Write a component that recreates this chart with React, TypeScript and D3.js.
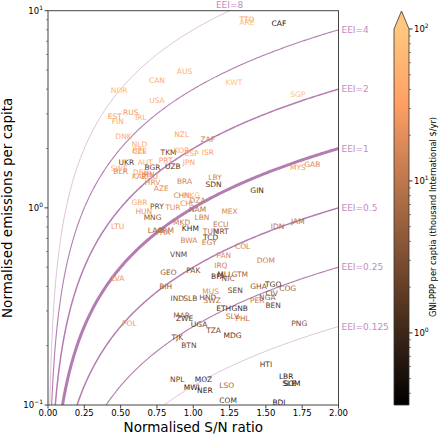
import React from 'react';
import * as d3 from 'd3';

// country codes with S/N ratio, emissions and GNI-PPP (thousand $)
const countries = [
  'NOR', 'CAN', 'AUS', 'USA', 'EST', 'RUS', 'IRL', 'FIN', 'DNK', 'NZL',
  'TTO', 'ARE', 'CAF', 'KWT', 'SGP', 'ZAF', 'NLD', 'BEL', 'CZE', 'TKM',
  'KOR', 'ESP', 'ISR', 'UKR', 'AUT', 'PRT', 'UZB', 'JPN', 'SWE', 'BLR',
  'BGR', 'DEU', 'KAZ', 'IRN', 'ROU', 'HRV', 'AZE', 'BRA', 'LBY', 'SDN',
  'CHN', 'HKG', 'CHL', 'DZA', 'GBR', 'PRY', 'TUR', 'NAM', 'HUN', 'MNG',
  'LBN', 'LTU', 'MKD', 'KHM', 'GIN', 'MYS', 'GAB', 'MEX', 'ECU', 'IDN',
  'JAM', 'LAO', 'ARM', 'THA', 'BWA', 'VNM', 'GEO', 'PAK', 'LVA', 'BIH',
  'IND', 'SLB', 'MUS', 'HND', 'SWZ', 'TUN', 'MRT', 'TCD', 'EGY', 'COL',
  'PAN', 'IRQ', 'DOM', 'BFA', 'NIC', 'MLI', 'GTM', 'SEN', 'GHA', 'TGO',
  'COG', 'CIV', 'PER', 'NGA', 'ETH', 'GNB', 'BEN', 'SLV', 'PHL', 'MAR',
  'ZWE', 'POL', 'UGA', 'TJK', 'BTN', 'NPL', 'MOZ', 'MWI', 'NER', 'TZA',
  'MDG', 'PNG', 'HTI', 'LBR', 'SLE', 'SOM', 'LSO', 'COM', 'BDI',
];
const snRatio = [
  0.49, 0.75, 0.94, 0.75, 0.46, 0.57, 0.64, 0.48, 0.52, 0.92,
  1.37, 1.37, 1.59, 1.28, 1.72, 1.10, 0.63, 0.63, 0.63, 0.83,
  0.92, 0.99, 1.10, 0.54, 0.67, 0.81, 0.86, 0.97, 0.49, 0.50,
  0.72, 0.64, 0.63, 0.69, 0.70, 0.72, 0.78, 0.94, 1.15, 1.14,
  0.92, 0.99, 0.96, 1.03, 0.63, 0.75, 0.86, 1.03, 0.66, 0.72,
  1.06, 0.48, 0.92, 0.98, 1.44, 1.72, 1.82, 1.25, 1.19, 1.58,
  1.72, 0.74, 0.81, 0.79, 0.97, 0.90, 0.83, 1.00, 0.48, 0.81,
  0.89, 0.98, 1.12, 1.10, 1.13, 1.12, 1.19, 1.12, 1.11, 1.34,
  1.21, 1.19, 1.50, 1.17, 1.24, 1.21, 1.32, 1.29, 1.45, 1.55,
  1.65, 1.54, 1.44, 1.51, 1.21, 1.32, 1.55, 1.27, 1.34, 0.92,
  0.94, 0.56, 1.04, 0.89, 0.97, 0.89, 1.07, 0.99, 1.08, 1.14,
  1.27, 1.73, 1.50, 1.64, 1.66, 1.68, 1.23, 1.24, 1.59,
];
const emissions = [
  3.93, 4.41, 4.90, 3.49, 2.90, 3.03, 2.86, 2.73, 2.29, 2.35,
  9.0, 8.75, 8.59, 4.31, 3.75, 2.21, 2.09, 1.95, 1.92, 1.90,
  1.95, 1.88, 1.90, 1.69, 1.69, 1.73, 1.63, 1.69, 1.58, 1.52,
  1.60, 1.51, 1.44, 1.47, 1.45, 1.34, 1.25, 1.36, 1.42, 1.32,
  1.15, 1.15, 1.05, 1.085, 1.07, 1.01, 1.00, 0.977, 0.954, 0.89,
  0.89, 0.80, 0.84, 0.79, 1.23, 1.61, 1.65, 0.954, 0.82, 0.80,
  0.85, 0.77, 0.77, 0.75, 0.68, 0.58, 0.47, 0.48, 0.44, 0.40,
  0.345, 0.345, 0.375, 0.35, 0.337, 0.76, 0.76, 0.71, 0.665, 0.634,
  0.57, 0.51, 0.54, 0.446, 0.44, 0.457, 0.457, 0.38, 0.40, 0.41,
  0.39, 0.366, 0.34, 0.35, 0.31, 0.31, 0.318, 0.28, 0.276, 0.286,
  0.276, 0.26, 0.255, 0.22, 0.20, 0.134, 0.135, 0.122, 0.118, 0.24,
  0.224, 0.26, 0.161, 0.139, 0.128, 0.128, 0.126, 0.105, 0.103,
];
const gniPpp = [
  65, 44, 45, 56, 27, 24, 50, 41, 48, 36,
  31, 70, 0.6, 80, 80, 13, 48, 43, 30, 2.2,
  34, 34, 33, 1.8, 47, 29, 1.6, 38, 47, 17,
  2.0, 46, 22, 16, 20, 21, 17, 15, 15, 1.5,
  14, 55, 21, 14, 40, 3.0, 19, 9, 24, 4,
  13, 27, 13, 1.2, 1.1, 26, 17, 16, 11, 10,
  8, 5, 8, 14, 15, 2.5, 4, 3, 23, 6,
  3.5, 2.5, 19, 4, 8, 10, 3, 1.5, 10, 13,
  19, 14, 13, 1.0, 4, 1.5, 6, 2.2, 3.5, 1.3,
  5, 3, 11, 5, 1.3, 1.3, 2, 8, 8, 6,
  1.6, 24, 1.7, 2.8, 2.5, 2.2, 1.1, 0.8, 0.9, 2.5,
  1.4, 3, 1.7, 0.8, 1.5, 0.6, 6, 1.5, 0.7,
];

const eeiLevels = [8, 4, 2, 1, 0.5, 0.25, 0.125];
const xTicks = [0, 0.25, 0.5, 0.75, 1, 1.25, 1.5, 1.75, 2];
const yDecades = [0.1, 1, 10];
const cbarDecades = [1, 10, 100];

const FONT = 'DejaVu Sans, sans-serif';
const plot = { left: 48, right: 338.5, top: 10.7, bottom: 405 };
const cbar = { x: 394, w: 15, top: 29, bottom: 405, tip: 11 };

const copper = (t: number) =>
  d3.rgb(Math.min(1, 1.25 * t) * 255, 0.7812 * t * 255, 0.4975 * t * 255).formatHex();

const sup = (base: string, exp: string) => (
  <>
    {base}
    <tspan dy={-4} fontSize={6}>{exp}</tspan>
  </>
);

export default function App() {
  const x = d3.scaleLinear().domain([0, 2]).range([plot.left, plot.right]);
  const y = d3.scaleLog().domain([0.1, 10]).range([plot.bottom, plot.top]);
  const color = d3.scaleSequentialLog(copper).domain([0.335, 100]).clamp(true);
  const cy = d3.scaleLog().domain([0.335, 100]).range([cbar.bottom, cbar.top]);

  const line = d3
    .line<[number, number]>()
    .x(d => x(d[0]))
    .y(d => y(d[1]));

  const yMinor: number[] = [];
  [0.1, 1].forEach(d => d3.range(2, 10).forEach(k => yMinor.push(d * k)));
  const cMinor: number[] = [];
  [0.1, 1, 10].forEach(d =>
    d3.range(2, 10).forEach(k => {
      const v = d * k;
      if (v >= 0.335 && v <= 100) cMinor.push(v);
    })
  );

  const weight = (e: number) => Math.abs(Math.log2(e));
  const gradStops = d3.range(0, 1.0001, 0.05);

  return (
    <svg
      width={445}
      height={437}
      style={{ position: 'absolute', left: 0, top: 0, background: '#fff' }}
      fontFamily={FONT}
    >
      <defs>
        <clipPath id="plotClip">
          <rect x={plot.left} y={plot.top} width={plot.right - plot.left} height={plot.bottom - plot.top} />
        </clipPath>
        <linearGradient id="cbarGrad" x1="0" y1="1" x2="0" y2="0">
          {gradStops.map(t => (
            <stop key={t} offset={t} stopColor={copper(t)} />
          ))}
        </linearGradient>
      </defs>

      {/* EEI curves */}
      <g clipPath="url(#plotClip)">
        {eeiLevels.map(e => {
          const x0 = 0.1 / e;
          const x1 = Math.min(2, 10 / e);
          const pts = d3.range(0, 201).map(i => {
            const xv = x0 + ((x1 - x0) * i) / 200;
            return [xv, e * xv] as [number, number];
          });
          const w = weight(e);
          return (
            <path
              key={e}
              d={line(pts) || ''}
              fill="none"
              stroke="#a05c9d"
              strokeWidth={w === 0 ? 3 : w === 1 ? 1.5 : w === 2 ? 1.1 : 0.8}
              strokeOpacity={w === 3 ? 0.45 : 0.8}
            />
          );
        })}
      </g>
      {eeiLevels.map(e => {
        const label = `EEI=${e}`;
        if (10 / e < 2) {
          return (
            <text key={e} x={x(10 / e)} y={plot.top - 6} fontSize={9} fill="#c48bc1" textAnchor="middle" dominantBaseline="central">
              {label}
            </text>
          );
        }
        return (
          <text key={e} x={plot.right + 3} y={y(2 * e)} fontSize={9} fill="#c48bc1" dominantBaseline="central">
            {label}
          </text>
        );
      })}

      {/* country labels */}
      <g fontSize={7.5} textAnchor="middle">
        {countries.map((c, i) => (
          <text key={c} x={x(snRatio[i])} y={y(emissions[i])} dominantBaseline="central" fill={color(gniPpp[i])}>
            {c}
          </text>
        ))}
      </g>

      {/* frame */}
      <rect
        x={plot.left}
        y={plot.top}
        width={plot.right - plot.left}
        height={plot.bottom - plot.top}
        fill="none"
        stroke="#444"
        strokeWidth={1}
      />

      {/* x axis */}
      <g fontSize={8.5}>
        {xTicks.map(t => (
          <g key={t}>
            <line x1={x(t)} x2={x(t)} y1={plot.bottom} y2={plot.bottom + 3.5} stroke="#444" />
            <text x={x(t)} y={plot.bottom + 11} textAnchor="middle" fill="#000">
              {d3.format('.2f')(t)}
            </text>
          </g>
        ))}
      </g>
      <text x={(plot.left + plot.right) / 2} y={432} fontSize={13.5} textAnchor="middle" fill="#000">
        Normalised S/N ratio
      </text>

      {/* y axis */}
      <g fontSize={8.5}>
        {yDecades.map(t => (
          <g key={t}>
            <line x1={plot.left - 3.5} x2={plot.left} y1={y(t)} y2={y(t)} stroke="#444" />
            <text x={plot.left - 5} y={y(t) + 3} textAnchor="end" fill="#000">
              {sup('10', t === 0.1 ? '\u22121' : t === 1 ? '0' : '1')}
            </text>
          </g>
        ))}
        {yMinor.map(t => (
          <line key={t} x1={plot.left - 2} x2={plot.left} y1={y(t)} y2={y(t)} stroke="#444" strokeWidth={0.6} />
        ))}
      </g>
      <text
        transform={`translate(12,${(plot.top + plot.bottom) / 2}) rotate(-90)`}
        fontSize={13.5}
        textAnchor="middle"
        fill="#000"
      >
        Normalised emissions per capita
      </text>

      {/* colorbar */}
      <rect x={cbar.x} y={cbar.top} width={cbar.w} height={cbar.bottom - cbar.top} fill="url(#cbarGrad)" />
      <path
        d={`M${cbar.x},${cbar.top} L${cbar.x + cbar.w / 2},${cbar.tip} L${cbar.x + cbar.w},${cbar.top} Z`}
        fill={copper(1)}
      />
      <path
        d={`M${cbar.x},${cbar.bottom} L${cbar.x},${cbar.top} L${cbar.x + cbar.w / 2},${cbar.tip} L${cbar.x + cbar.w},${cbar.top} L${cbar.x + cbar.w},${cbar.bottom} Z`}
        fill="none"
        stroke="#333"
        strokeWidth={0.8}
      />
      <g fontSize={8.5}>
        {cbarDecades.map(t => (
          <g key={t}>
            <line x1={cbar.x + cbar.w} x2={cbar.x + cbar.w + 3.5} y1={cy(t)} y2={cy(t)} stroke="#333" />
            <text x={cbar.x + cbar.w + 5} y={cy(t) + 3} fill="#000">
              {sup('10', String(Math.round(Math.log10(t))))}
            </text>
          </g>
        ))}
        {cMinor.map(t => (
          <line key={t} x1={cbar.x + cbar.w} x2={cbar.x + cbar.w + 2} y1={cy(t)} y2={cy(t)} stroke="#333" strokeWidth={0.6} />
        ))}
      </g>
      <text
        transform={`translate(436,${(cbar.top + cbar.bottom) / 2}) rotate(-90)`}
        fontSize={8.3}
        textAnchor="middle"
        fill="#000"
      >
        GNI-PPP per captia (thousand International $/yr)
      </text>
    </svg>
  );
}
